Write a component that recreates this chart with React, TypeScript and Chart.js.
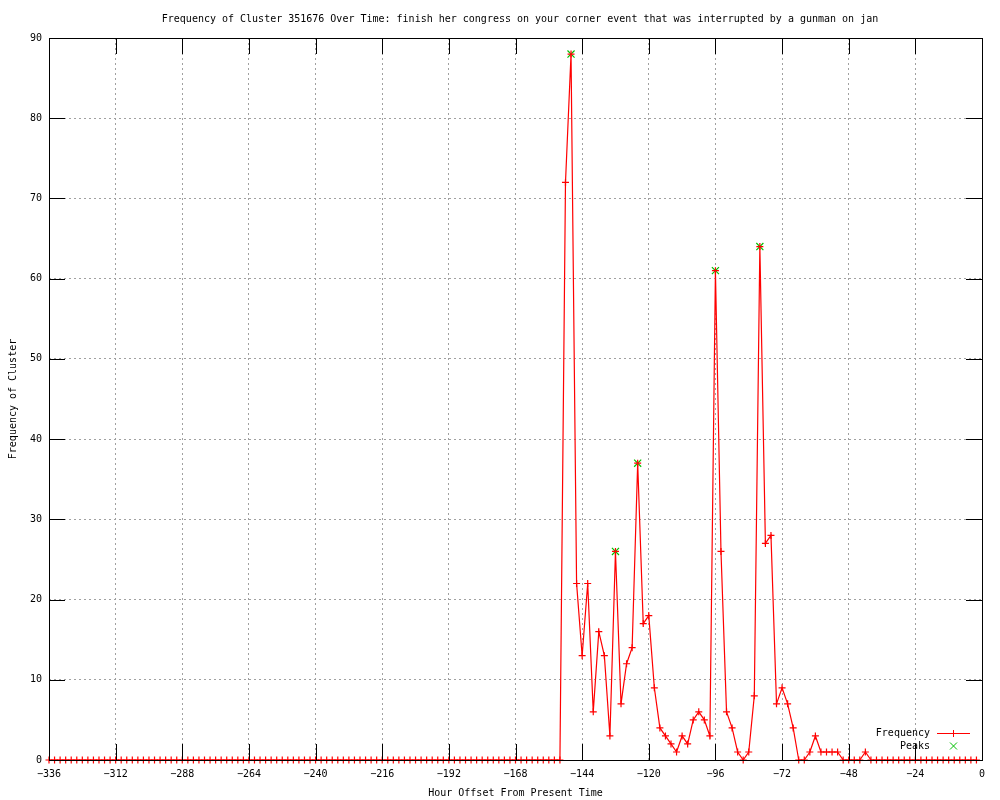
import React, { useEffect, useRef } from "react";
import { Chart, registerables } from "chart.js";

Chart.register(...registerables);

const TITLE =
  "Frequency of Cluster 351676 Over Time: finish her congress on your corner event that was interrupted by a gunman on jan";
const X_LABEL = "Hour Offset From Present Time";
const Y_LABEL = "Frequency of Cluster";

const HOURS = [
  -336, -334, -332, -330, -328, -326, -324, -322, -320, -318, -316, -314, -312, -310, -308, -306,
  -304, -302, -300, -298, -296, -294, -292, -290, -288, -286, -284, -282, -280, -278, -276, -274,
  -272, -270, -268, -266, -264, -262, -260, -258, -256, -254, -252, -250, -248, -246, -244, -242,
  -240, -238, -236, -234, -232, -230, -228, -226, -224, -222, -220, -218, -216, -214, -212, -210,
  -208, -206, -204, -202, -200, -198, -196, -194, -192, -190, -188, -186, -184, -182, -180, -178,
  -176, -174, -172, -170, -168, -166, -164, -162, -160, -158, -156, -154, -152, -150, -148, -146,
  -144, -142, -140, -138, -136, -134, -132, -130, -128, -126, -124, -122, -120, -118, -116, -114,
  -112, -110, -108, -106, -104, -102, -100, -98, -96, -94, -92, -90, -88, -86, -84, -82,
  -80, -78, -76, -74, -72, -70, -68, -66, -64, -62, -60, -58, -56, -54, -52, -50,
  -48, -46, -44, -42, -40, -38, -36, -34, -32, -30, -28, -26, -24, -22, -20, -18,
  -16, -14, -12, -10, -8, -6, -4, -2,
];

const FREQUENCY = [
  0, 0, 0, 0, 0, 0, 0, 0, 0, 0, 0, 0, 0, 0, 0, 0,
  0, 0, 0, 0, 0, 0, 0, 0, 0, 0, 0, 0, 0, 0, 0, 0,
  0, 0, 0, 0, 0, 0, 0, 0, 0, 0, 0, 0, 0, 0, 0, 0,
  0, 0, 0, 0, 0, 0, 0, 0, 0, 0, 0, 0, 0, 0, 0, 0,
  0, 0, 0, 0, 0, 0, 0, 0, 0, 0, 0, 0, 0, 0, 0, 0,
  0, 0, 0, 0, 0, 0, 0, 0, 0, 0, 0, 0, 0, 72, 88, 22,
  13, 22, 6, 16, 13, 3, 26, 7, 12, 14, 37, 17, 18, 9, 4, 3,
  2, 1, 3, 2, 5, 6, 5, 3, 61, 26, 6, 4, 1, 0, 1, 8,
  64, 27, 28, 7, 9, 7, 4, 0, 0, 1, 3, 1, 1, 1, 1, 0,
  0, 0, 0, 1, 0, 0, 0, 0, 0, 0, 0, 0, 0, 0, 0, 0,
  0, 0, 0, 0, 0, 0, 0, 0,
];

const PEAK_HOURS = [-148, -132, -124, -96, -80];
const PEAK_VALUES = [88, 26, 37, 61, 64];

const X_TICKS = [-336, -312, -288, -264, -240, -216, -192, -168, -144, -120, -96, -72, -48, -24, 0];
const Y_TICKS = [0, 10, 20, 30, 40, 50, 60, 70, 80, 90];

const FONT_FAMILY = '"DejaVu Sans Mono", "Liberation Mono", monospace';
const RED = "#ff0000";
const GREEN = "#00c000";

const gnuplotDecor = {
  id: "gnuplotDecor",
  afterDatasetsDraw(chart: any) {
    const ctx = chart.ctx as CanvasRenderingContext2D;
    const area = chart.chartArea;
    const xs = chart.scales.x;
    const ys = chart.scales.y;
    const TL = 16;
    ctx.save();
    ctx.strokeStyle = "#000000";
    ctx.lineWidth = 1;
    ctx.beginPath();
    for (const v of X_TICKS) {
      const px = Math.round(xs.getPixelForValue(v)) + 0.5;
      ctx.moveTo(px, area.bottom);
      ctx.lineTo(px, area.bottom - TL);
      ctx.moveTo(px, area.top);
      ctx.lineTo(px, area.top + TL);
    }
    for (const v of Y_TICKS) {
      const py = Math.round(ys.getPixelForValue(v)) + 0.5;
      ctx.moveTo(area.left, py);
      ctx.lineTo(area.left + TL, py);
      ctx.moveTo(area.right, py);
      ctx.lineTo(area.right - TL, py);
    }
    ctx.stroke();
    ctx.strokeRect(
      Math.round(area.left) + 0.5,
      Math.round(area.top) + 0.5,
      Math.round(area.right - area.left),
      Math.round(area.bottom - area.top)
    );

    ctx.fillStyle = "#000000";
    ctx.font = `10px ${FONT_FAMILY}`;
    ctx.textBaseline = "middle";
    ctx.textAlign = "center";
    ctx.fillText(TITLE, 520, 19);
    ctx.fillText(X_LABEL, (area.left + area.right) / 2, 793);
    ctx.save();
    ctx.translate(13, (area.top + area.bottom) / 2);
    ctx.rotate(-Math.PI / 2);
    ctx.fillText(Y_LABEL, 0, 0);
    ctx.restore();

    ctx.textAlign = "right";
    ctx.fillText("Frequency", 930, 733);
    ctx.fillText("Peaks", 930, 746);
    ctx.strokeStyle = RED;
    ctx.lineWidth = 1;
    ctx.beginPath();
    ctx.moveTo(937, 733.5);
    ctx.lineTo(970, 733.5);
    ctx.moveTo(953.5, 730);
    ctx.lineTo(953.5, 737);
    ctx.stroke();
    ctx.strokeStyle = GREEN;
    ctx.beginPath();
    ctx.moveTo(950, 742.5);
    ctx.lineTo(957, 749.5);
    ctx.moveTo(957, 742.5);
    ctx.lineTo(950, 749.5);
    ctx.stroke();
    ctx.restore();
  },
};

export default function App() {
  const canvasRef = useRef<HTMLCanvasElement | null>(null);

  useEffect(() => {
    const canvas = canvasRef.current;
    if (!canvas) return;
    const freqData = HOURS.map((h, i) => ({ x: h, y: FREQUENCY[i] }));
    const peakData = PEAK_HOURS.map((h, i) => ({ x: h, y: PEAK_VALUES[i] }));

    const chart = new Chart(canvas, {
      type: "line",
      data: {
        datasets: [
          {
            label: "Frequency",
            data: freqData,
            borderColor: RED,
            backgroundColor: RED,
            borderWidth: 1.2,
            pointStyle: "cross",
            pointRadius: 3.5,
            pointBorderColor: RED,
            pointBorderWidth: 1.2,
            tension: 0,
            clip: false as any,
          },
          {
            label: "Peaks",
            data: peakData,
            showLine: false,
            borderColor: GREEN,
            backgroundColor: GREEN,
            pointStyle: "crossRot",
            pointRadius: 5,
            pointBorderColor: GREEN,
            pointBorderWidth: 1.2,
            clip: false as any,
          },
        ],
      },
      options: {
        responsive: false,
        animation: false,
        events: [],
        layout: { padding: { top: 38, right: 18, left: 0, bottom: 0 } },
        plugins: {
          legend: { display: false },
          title: { display: false },
          tooltip: { enabled: false },
        },
        scales: {
          x: {
            type: "linear",
            min: -336,
            max: 0,
            afterBuildTicks: (scale: any) => {
              scale.ticks = X_TICKS.map((v) => ({ value: v }));
            },
            afterFit: (scale: any) => {
              scale.height = 40;
            },
            border: { display: false, dash: [2, 3] },
            grid: {
              color: "#a0a0a0",
              lineWidth: 1,
              drawTicks: false,
              tickLength: 0,
            },
            ticks: {
              autoSkip: false,
              maxRotation: 0,
              padding: 8,
              color: "#000000",
              font: { family: FONT_FAMILY, size: 10 },
              callback: (v: any) => String(v).replace("-", "\u2212"),
            },
          },
          y: {
            type: "linear",
            min: 0,
            max: 90,
            afterBuildTicks: (scale: any) => {
              scale.ticks = Y_TICKS.map((v) => ({ value: v }));
            },
            afterFit: (scale: any) => {
              scale.width = 49;
            },
            border: { display: false, dash: [2, 3] },
            grid: {
              color: "#a0a0a0",
              lineWidth: 1,
              drawTicks: false,
              tickLength: 0,
            },
            ticks: {
              padding: 7,
              color: "#000000",
              font: { family: FONT_FAMILY, size: 10 },
            },
          },
        },
      },
      plugins: [
        {
          id: "whiteBg",
          beforeDraw(c: any) {
            c.ctx.save();
            c.ctx.fillStyle = "#ffffff";
            c.ctx.fillRect(0, 0, c.width, c.height);
            c.ctx.restore();
          },
        },
        gnuplotDecor,
      ],
    } as any);

    return () => chart.destroy();
  }, []);

  return (
    <canvas
      ref={canvasRef}
      width={1000}
      height={800}
      style={{ position: "absolute", left: 0, top: 0, width: 1000, height: 800 }}
    />
  );
}
